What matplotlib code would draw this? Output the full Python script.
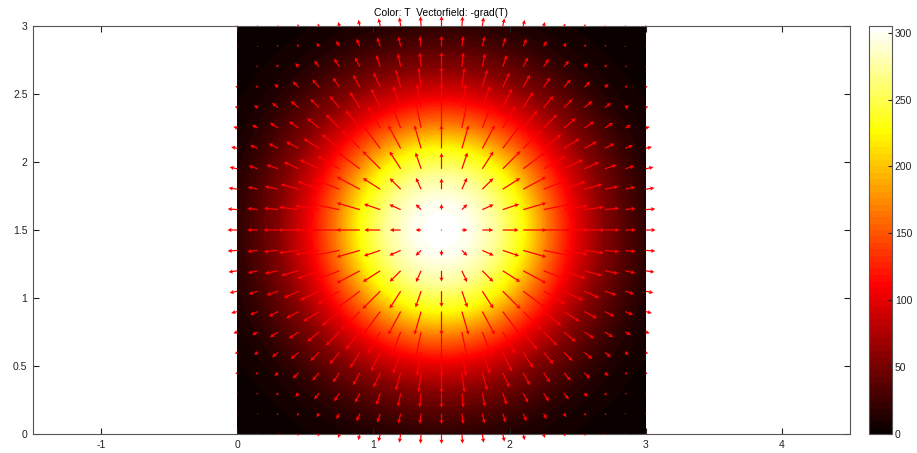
import numpy as np
import matplotlib
matplotlib.use('Agg')
import matplotlib.pyplot as plt

# radial temperature profile (distance from centre -> T)
radius = [0.0, 0.2, 0.4, 0.6, 0.8, 1.0, 1.2, 1.4, 1.5, 1.6, 1.8, 2.0, 2.15]
temp = [305, 298, 272, 228, 160, 100, 57, 30, 19, 11, 4, 1, 0]
center = (1.5, 1.5)
domain = (0.0, 3.0)
arrow_step = 0.15

x_ticks = [-1, 0, 1, 2, 3, 4]
y_ticks = [0, 0.5, 1, 1.5, 2, 2.5, 3]
y_ticklabels = ['0', '0.5', '1', '1.5', '2', '2.5', '3']
cbar_ticks = [0, 50, 100, 150, 200, 250, 300]

plt.rcParams['font.family'] = ['Liberation Sans', 'DejaVu Sans']
plt.rcParams['font.size'] = 7.5
plt.rcParams['axes.unicode_minus'] = False


def field(xx, yy):
    rr = np.hypot(xx - center[0], yy - center[1])
    return np.interp(rr, radius, temp)


# colour image
g = np.linspace(domain[0], domain[1], 301)
GX, GY = np.meshgrid(g, g)
T = field(GX, GY)

# arrows: -grad(T)
a = np.arange(domain[0], domain[1] + 1e-9, arrow_step)
AX, AY = np.meshgrid(a, a)
TA = field(AX, AY)
dTdy, dTdx = np.gradient(TA, arrow_step)
U, V = -dTdx, -dTdy
mag_max = np.hypot(U, V).max()

fig = plt.figure(figsize=(9.17, 4.53), dpi=100)
ax = fig.add_axes([33 / 917, 19 / 453, 817 / 917, 408 / 453])
cax = fig.add_axes([869 / 917, 19 / 453, 23 / 917, 408 / 453])

im = ax.imshow(T, extent=[domain[0], domain[1], domain[0], domain[1]], origin='lower',
               cmap=plt.get_cmap('hot', 64), vmin=0, vmax=max(temp),
               interpolation='bilinear', aspect='auto')
ax.quiver(AX, AY, U, V, color='#ff0000', angles='xy', scale_units='xy',
          scale=mag_max / 0.2, width=0.0015, headwidth=3.5, headlength=3.5,
          headaxislength=3, pivot='tail', clip_on=False, zorder=3)

ax.set_xlim(-1.5, 4.5)
ax.set_ylim(0, 3)
ax.set_xticks(x_ticks)
ax.set_yticks(y_ticks)
ax.set_yticklabels(y_ticklabels)
ax.tick_params(direction='in', top=True, right=True, length=4, width=0.8,
               colors='#222222', pad=4)
for s in ax.spines.values():
    s.set_color('#555555')
    s.set_linewidth(0.8)
ax.set_title('Color: T  Vectorfield: -grad(T)', fontsize=7.5, pad=7)

cb = fig.colorbar(im, cax=cax, ticks=cbar_ticks)
cb.outline.set_edgecolor('#555555')
cb.outline.set_linewidth(0.8)
cax.tick_params(direction='in', length=3, width=0.8, colors='#222222', pad=2)

fig.savefig('out.png', dpi=100)
